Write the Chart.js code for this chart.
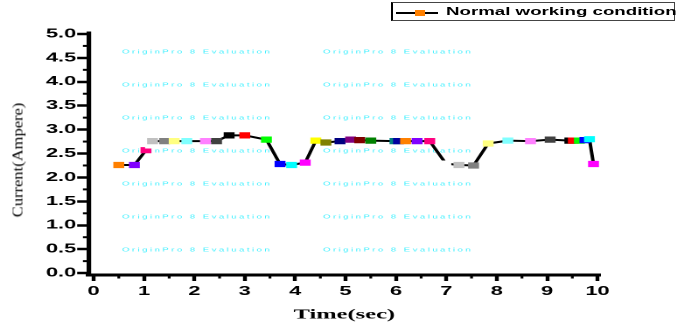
<!DOCTYPE html>
<html>
<head>
<meta charset="utf-8">
<script src="https://cdn.jsdelivr.net/npm/chart.js@4/dist/chart.umd.min.js"></script>
<style>
  html, body { margin:0; padding:0; background:#fff; }
  body { width:677px; height:325px; overflow:hidden; position:relative; }
  #wrap { position:absolute; left:0; top:0; width:387px; height:325px; transform:scaleX(1.7494); transform-origin:0 0; }
  #ytitle { position:absolute; left:18px; top:160px; white-space:nowrap; font-family:"Liberation Serif", serif; font-size:16.5px; color:#000;
            transform:translate(-50%,-50%) rotate(-90deg) scaleY(0.85); }
  #legend { position:absolute; left:391px; top:2px; width:281px; height:17px; border:1px solid #444; border-left:2px solid #000; background:#fff; }
  #legline { position:absolute; left:3px; top:9px; width:42px; height:2px; background:#000; }
  #legsq { position:absolute; left:22px; top:7px; width:10px; height:6px; background:#FF8000; }
  #legtxt { position:absolute; left:53px; top:2px; font-family:"Liberation Sans", Arial, sans-serif; font-weight:bold; font-size:10px; line-height:14px; white-space:nowrap; transform:scaleX(1.87); transform-origin:0 0; color:#000; }
</style>
</head>
<body>
<div id="wrap"><canvas id="c" width="387" height="325"></canvas></div>
<div id="ytitle">Current(Ampere)</div>
<div id="legend"><div id="legline"></div><div id="legsq"></div><div id="legtxt">Normal working condition</div></div>
<script>
// ---- data ----
const seriesName = "Normal working condition";
const timeSec = [0.50,0.81,1.04,1.13,1.17,1.41,1.60,1.85,2.22,2.44,2.69,3.00,3.43,3.70,3.93,4.20,4.41,4.61,4.89,5.10,5.28,5.50,5.98,6.05,6.19,6.42,6.67,6.99,7.25,7.54,7.83,8.22,8.67,9.06,9.45,9.52,9.64,9.75,9.84,9.92];
const currentAmp = [2.26,2.26,2.57,2.67,2.76,2.76,2.76,2.76,2.76,2.76,2.88,2.88,2.79,2.28,2.26,2.31,2.77,2.73,2.76,2.79,2.78,2.77,2.76,2.76,2.76,2.76,2.76,2.29,2.26,2.25,2.71,2.77,2.76,2.79,2.77,2.77,2.77,2.78,2.80,2.28];
const xTickValues = [0,1,2,3,4,5,6,7,8,9,10];
const yTickValues = [0,0.5,1,1.5,2,2.5,3,3.5,4,4.5,5];
const xMinorValues = [0.5,1.5,2.5,3.5,4.5,5.5,6.5,7.5,8.5,9.5];
const yMinorValues = [0.25,0.75,1.25,1.75,2.25,2.75,3.25,3.75,4.25,4.75];
const watermark = "OriginPro 8 Evaluation";

// ---- styles ----
const originPalette = ['#000000','#FF0000','#00FF00','#0000FF','#00FFFF','#FF00FF','#FFFF00','#808000','#000080','#800080','#800000','#008000','#008080','#0000A0','#FF8000','#8000FF','#FF0080','#FFFFFF','#C0C0C0','#808080','#FFFF80','#80FFFF','#FF80FF','#404040'];
const markerColors = timeSec.map((_, i) => originPalette[(14 + i) % 24]);
const SX = 677 / 387;

const points = timeSec.map((t, i) => ({ x: t, y: currentAmp[i] }));

const extras = {
  id: 'extras',
  beforeDatasetsDraw(chart) {
    const ctx = chart.ctx;
    ctx.save();
    ctx.fillStyle = '#40f0ff';
    ctx.font = '5.5px "Liberation Sans", Arial, sans-serif';
    ctx.textBaseline = 'middle';
    try { ctx.letterSpacing = '1.4px'; } catch (e) {}
    const cols = [122 / SX, 323 / SX];
    for (let r = 0; r < 7; r++) {
      const y = 52 + 33 * r;
      cols.forEach(x => ctx.fillText(watermark, x, y));
    }
    ctx.restore();
  },
  afterDraw(chart) {
    const ctx = chart.ctx;
    const xs = chart.scales.x, ys = chart.scales.y;
    const ca = chart.chartArea;
    ctx.save();
    ctx.strokeStyle = '#000';
    ctx.lineWidth = 2;
    yMinorValues.forEach(v => {
      const y = ys.getPixelForValue(v);
      ctx.beginPath(); ctx.moveTo(ca.left - 3.2, y); ctx.lineTo(ca.left, y); ctx.stroke();
    });
    ctx.lineWidth = 1.6;
    xMinorValues.forEach(v => {
      const x = xs.getPixelForValue(v);
      ctx.beginPath(); ctx.moveTo(x, ca.bottom); ctx.lineTo(x, ca.bottom + 3.5); ctx.stroke();
    });
    ctx.restore();
  }
};

new Chart(document.getElementById('c'), {
  type: 'scatter',
  data: {
    datasets: [{
      label: seriesName,
      data: points,
      showLine: true,
      borderColor: '#000',
      borderWidth: 2,
      pointStyle: 'rect',
      pointRadius: 4.4,
      pointHoverRadius: 4.4,
      pointBorderWidth: 0,
      pointBackgroundColor: markerColors,
      pointBorderColor: markerColors,
      tension: 0
    }]
  },
  options: {
    responsive: false,
    animation: false,
    devicePixelRatio: 2,
    layout: { padding: { left: 0, right: 44, top: 33, bottom: 0 } },
    plugins: { legend: { display: false }, tooltip: { enabled: false } },
    scales: {
      x: {
        type: 'linear', min: -0.1, max: 10.05,
        afterBuildTicks: s => { s.ticks = xTickValues.map(v => ({ value: v })); },
        afterFit: s => { s.height = 50; },
        ticks: { stepSize: 1, includeBounds: false, color: '#000', padding: 3, maxRotation: 0, autoSkip: false,
                 font: { family: '"Liberation Sans", Arial, sans-serif', weight: 'bold', size: 12.5 } },
        grid: { display: true, drawOnChartArea: false, drawTicks: true, tickLength: 6, tickWidth: 2.2, tickColor: '#000' },
        border: { display: true, color: '#000', width: 3 },
        title: { display: true, text: 'Time(sec)', color: '#000', padding: { top: 0, bottom: 1.5 },
                 font: { family: '"Liberation Serif", serif', weight: 'bold', size: 14 } }
      },
      y: {
        type: 'linear', min: -0.04, max: 5.02,
        afterBuildTicks: s => { s.ticks = yTickValues.map(v => ({ value: v })); },
        afterFit: s => { s.width = 50.6; },
        ticks: { stepSize: 0.5, includeBounds: false, color: '#000', padding: 0.5, autoSkip: false,
                 callback: v => Number(v).toFixed(1),
                 font: { family: '"Liberation Sans", Arial, sans-serif', weight: 'bold', size: 12.5 } },
        grid: { display: true, drawOnChartArea: false, drawTicks: true, tickLength: 6.5, tickWidth: 2.5, tickColor: '#000' },
        border: { display: true, color: '#000', width: 2.6 },
        title: { display: false }
      }
    }
  },
  plugins: [extras]
});
</script>
</body>
</html>
